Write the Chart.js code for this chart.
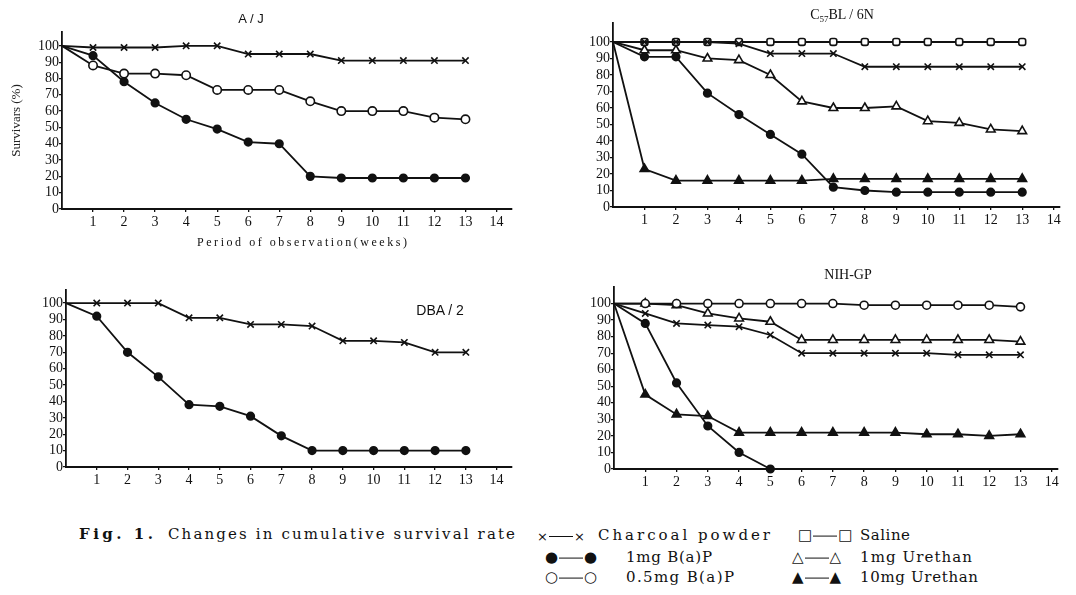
<!DOCTYPE html>
<html lang="en">
<head>
<meta charset="UTF-8">
<title>Fig. 1. Changes in cumulative survival rate</title>
<style>
  body {
    margin: 0;
    width: 1076px;
    height: 595px;
    position: relative;
    overflow: hidden;
    background: #fff;
    color: #111;
    font-family: "Liberation Serif", "DejaVu Serif", serif;
  }
  canvas { position: absolute; }
  .t {
    position: absolute;
    white-space: nowrap;
    line-height: 1;
    transform: translateY(-50%);
  }
  .c { transform: translate(-50%, -50%); }
  .sans { font-family: "Liberation Sans", sans-serif; }
  .cap { font-family: "DejaVu Serif", serif; font-size: 15px; }
  .sym { font-family: "DejaVu Sans", sans-serif; font-size: 15px; vertical-align: middle; }
  .sym.s { font-size: 13px; }
  .dash {
    display: inline-block;
    width: 24px;
    border-top: 1.3px solid #111;
    vertical-align: middle;
    margin: 0 1px;
  }
</style>
</head>
<body>
  <canvas id="aj" width="540" height="250" style="left:0;top:0"></canvas>
  <canvas id="c57" width="536" height="250" style="left:540px;top:0"></canvas>
  <canvas id="dba" width="540" height="250" style="left:0;top:250px"></canvas>
  <canvas id="nih" width="536" height="250" style="left:540px;top:250px"></canvas>

  <!-- panel titles -->
  <div class="t c sans" style="left:251px;top:18px;font-size:13px;">A / J</div>
  <div class="t c" style="left:842px;top:16px;font-size:14px;">C<sub style="font-size:9px">57</sub>BL / 6N</div>
  <div class="t c sans" style="left:440px;top:310px;font-size:14px;">DBA / 2</div>
  <div class="t c" style="left:848px;top:275px;font-size:14px;">NIH-GP</div>
  <div class="t" style="left:197px;top:242px;font-size:12px;" data-w="210">Period of observation(weeks)</div>

  <!-- caption + legend -->
  <div class="t cap" style="left:79px;top:534px;font-weight:bold;" data-w="74">Fig. 1.</div>
  <div class="t cap" style="left:168px;top:534px;" data-w="347">Changes in cumulative survival rate</div>

  <div class="t" style="left:537px;top:535px;"><span class="sym s">×</span><span class="dash"></span><span class="sym s">×</span></div>
  <div class="t cap" style="left:598px;top:535px;" data-w="172">Charcoal powder</div>
  <div class="t" style="left:545px;top:557px;"><span class="sym">●</span><span class="dash"></span><span class="sym">●</span></div>
  <div class="t cap" style="left:626px;top:557px;" data-w="86">1mg B(a)P</div>
  <div class="t" style="left:545px;top:577px;"><span class="sym">○</span><span class="dash"></span><span class="sym">○</span></div>
  <div class="t cap" style="left:626px;top:577px;" data-w="108">0.5mg B(a)P</div>

  <div class="t" style="left:798px;top:535px;"><span class="sym">□</span><span class="dash"></span><span class="sym">□</span></div>
  <div class="t cap" style="left:860px;top:535px;" data-w="50">Saline</div>
  <div class="t" style="left:792px;top:557px;"><span class="sym">△</span><span class="dash"></span><span class="sym">△</span></div>
  <div class="t cap" style="left:860px;top:557px;" data-w="112">1mg Urethan</div>
  <div class="t" style="left:792px;top:577px;"><span class="sym">▲</span><span class="dash"></span><span class="sym">▲</span></div>
  <div class="t cap" style="left:860px;top:577px;" data-w="118">10mg Urethan</div>

  <script src="https://cdn.jsdelivr.net/npm/chart.js"></script>
  <script>
    // weeks of observation and axis ticks
    const weeks = [0, 1, 2, 3, 4, 5, 6, 7, 8, 9, 10, 11, 12, 13];
    const weekTicks = [1, 2, 3, 4, 5, 6, 7, 8, 9, 10, 11, 12, 13, 14];
    const survivalTicks = [0, 10, 20, 30, 40, 50, 60, 70, 80, 90, 100];

    // A/J (%)
    const ajCharcoal = [100, 99, 99, 99, 100, 100, 95, 95, 95, 91, 91, 91, 91, 91];
    const ajBaP05 = [100, 88, 83, 83, 82, 73, 73, 73, 66, 60, 60, 60, 56, 55];
    const ajBaP1 = [100, 94, 78, 65, 55, 49, 41, 40, 20, 19, 19, 19, 19, 19];

    // C57BL/6N (%)
    const c57Charcoal = [100, 100, 100, 100, 99, 93, 93, 93, 85, 85, 85, 85, 85, 85];
    const c57Saline = [100, 100, 100, 100, 100, 100, 100, 100, 100, 100, 100, 100, 100, 100];
    const c57Urethan1 = [100, 95, 95, 90, 89, 80, 64, 60, 60, 61, 52, 51, 47, 46];
    const c57BaP1 = [100, 91, 91, 69, 56, 44, 32, 12, 10, 9, 9, 9, 9, 9];
    const c57Urethan10 = [100, 23, 16, 16, 16, 16, 16, 17, 17, 17, 17, 17, 17, 17];

    // DBA/2 (%)
    const dbaCharcoal = [100, 100, 100, 100, 91, 91, 87, 87, 86, 77, 77, 76, 70, 70];
    const dbaBaP1 = [100, 92, 70, 55, 38, 37, 31, 19, 10, 10, 10, 10, 10, 10];

    // NIH-GP (%)
    const nihSaline = [100, 100, 100, 100, 100, 100, 100, 100, 99, 99, 99, 99, 99, 98];
    const nihUrethan1 = [100, 100, 99, 94, 91, 89, 78, 78, 78, 78, 78, 78, 78, 77];
    const nihCharcoal = [100, 94, 88, 87, 86, 81, 70, 70, 70, 70, 70, 69, 69, 69];
    const nihBaP1 = [100, 88, 52, 26, 10, 0];
    const nihUrethan10 = [100, 45, 33, 32, 22, 22, 22, 22, 22, 22, 21, 21, 20, 21];

    const ink = '#111';
    const tickFont = { family: '"Liberation Serif", "DejaVu Serif", serif', size: 14 };

    const markers = {
      charcoal: { style: 'crossRot', fill: ink, r: 4.5 },
      saline: { style: 'rectRounded', fill: '#fff', r: 4 },
      salineRound: { style: 'circle', fill: '#fff', r: 4 },
      bap1: { style: 'circle', fill: ink, r: 3.8 },
      bap05: { style: 'circle', fill: '#fff', r: 4.2 },
      ure1: { style: 'triangle', fill: '#fff', r: 5 },
      ure10: { style: 'triangle', fill: ink, r: 5 }
    };

    function series(values, kind) {
      const m = markers[kind];
      return {
        data: values.map((v, i) => ({ x: weeks[i], y: v })),
        borderColor: ink,
        borderWidth: 1.8,
        pointStyle: m.style,
        pointBackgroundColor: m.fill,
        pointBorderColor: ink,
        pointBorderWidth: 1.6,
        pointRadius: c => c.dataIndex === 0 ? 0 : m.r,
        tension: 0,
        fill: false,
        clip: false
      };
    }

    function panel(id, box, xMax, yMax, datasets, yTitle) {
      new Chart(document.getElementById(id), {
        type: 'line',
        data: { datasets: datasets },
        options: {
          responsive: false,
          animation: false,
          events: [],
          layout: { padding: { left: box.padL, top: box.top, right: box.right, bottom: box.bottom } },
          plugins: { legend: { display: false }, tooltip: { enabled: false } },
          scales: {
            x: {
              type: 'linear',
              min: 0,
              max: xMax,
              afterBuildTicks: s => { s.ticks = weekTicks.map(v => ({ value: v })); },
              afterFit: s => { s.height = 30; },
              grid: { drawOnChartArea: false, tickLength: 3, color: ink, lineWidth: 1.3 },
              border: { color: ink, width: 2 },
              ticks: { color: ink, padding: 2, font: tickFont, autoSkip: false, maxRotation: 0 }
            },
            y: {
              type: 'linear',
              min: 0,
              max: yMax,
              afterBuildTicks: s => { s.ticks = survivalTicks.map(v => ({ value: v })); },
              afterFit: s => { s.width = box.axisW; },
              grid: { drawOnChartArea: false, tickLength: 3, color: ink, lineWidth: 1.3 },
              border: { color: ink, width: 1.8 },
              ticks: { color: ink, padding: 0, font: tickFont, autoSkip: false },
              title: {
                display: !!yTitle,
                text: yTitle || '',
                color: '#222',
                font: { family: '"Liberation Serif", serif', size: 13 },
                padding: { top: 0, bottom: 0 }
              }
            }
          }
        }
      });
    }

    panel('aj', { padL: 9, axisW: 53, top: 32, right: 28, bottom: 11 }, 14.5, 108.5, [
      series(ajCharcoal, 'charcoal'),
      series(ajBaP05, 'bap05'),
      series(ajBaP1, 'bap1')
    ], 'Survivars (%)');

    panel('c57', { padL: 0, axisW: 73, top: 23, right: 16, bottom: 13 }, 14.2, 111.5, [
      series(c57Charcoal, 'charcoal'),
      series(c57Saline, 'saline'),
      series(c57Urethan1, 'ure1'),
      series(c57BaP1, 'bap1'),
      series(c57Urethan10, 'ure10')
    ]);

    panel('dba', { padL: 0, axisW: 66, top: 40, right: 28, bottom: 3 }, 14.5, 108, [
      series(dbaCharcoal, 'charcoal'),
      series(dbaBaP1, 'bap1')
    ]);

    panel('nih', { padL: 0, axisW: 74, top: 37, right: 18, bottom: 1 }, 14.2, 110, [
      series(nihSaline, 'salineRound'),
      series(nihUrethan1, 'ure1'),
      series(nihCharcoal, 'charcoal'),
      series(nihBaP1, 'bap1'),
      series(nihUrethan10, 'ure10')
    ]);

    // stretch caption texts to the widths they take in the printed figure
    document.querySelectorAll('[data-w]').forEach(el => {
      const n = el.textContent.length;
      const natural = el.getBoundingClientRect().width;
      el.style.letterSpacing = ((+el.dataset.w - natural) / (n - 1)) + 'px';
    });
  </script>
</body>
</html>
